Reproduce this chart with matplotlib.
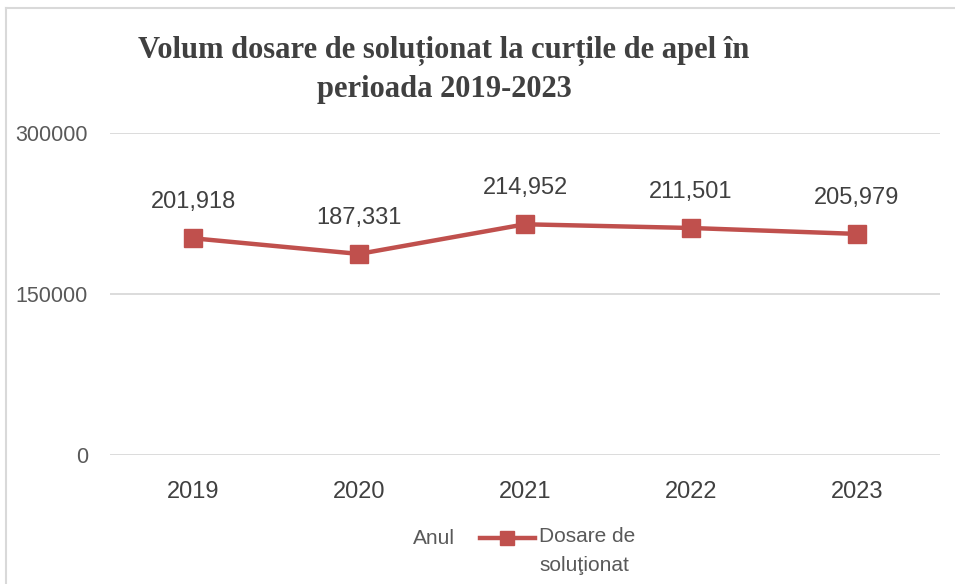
import matplotlib.pyplot as plt
from matplotlib.lines import Line2D

# date
years = ['2019', '2020', '2021', '2022', '2023']
dosare = [201918, 187331, 214952, 211501, 205979]
yticks = [0, 150000, 300000]

title = 'Volum dosare de soluționat la curțile de apel în\nperioada 2019-2023'
series_name = 'Dosare de\nsoluţionat'
x_name = 'Anul'

red = '#C0504D'

plt.rcParams['font.family'] = ['Liberation Sans', 'DejaVu Sans']

W, H = 955, 584
fig = plt.figure(figsize=(W / 100, H / 100), dpi=100)
ax = fig.add_axes([110 / W, 1 - 455 / H, 830 / W, 322 / H])

x = range(len(years))
ax.plot(x, dosare, color=red, lw=3.2, marker='s', ms=13, mfc=red, mec=red, zorder=3)

for i, v in zip(x, dosare):
    ax.annotate(f'{v:,}', (i, v), xytext=(0, 18), textcoords='offset points',
                ha='center', va='bottom', fontsize=17, color='#404040')

ax.set_xlim(-0.5, len(years) - 0.5)
ax.set_ylim(0, 300000)
ax.set_yticks(yticks)
ax.set_yticklabels([str(t) for t in yticks])
ax.set_xticks(list(x))
ax.set_xticklabels(years)
ax.grid(axis='y', color='#D9D9D9', lw=1.3)
ax.set_axisbelow(True)
for s in ax.spines.values():
    s.set_visible(False)
ax.tick_params(axis='y', length=0, pad=16, labelsize=15.5, labelcolor='#595959')
ax.tick_params(axis='x', length=0, pad=19, labelsize=17, labelcolor='#404040')

fig.text(444 / W, 1 - 70 / H, title, ha='center', va='center', fontsize=22,
         family=['Liberation Serif', 'DejaVu Serif'], fontweight='bold',
         color='#404040', linespacing=1.4)

# legenda
fig.text(455 / W, 1 - 538 / H, x_name, ha='right', va='center', fontsize=15, color='#595959')
fig.add_artist(Line2D([480 / W, 535 / W], [1 - 538 / H, 1 - 538 / H], color=red, lw=3.2,
                      transform=fig.transFigure))
fig.add_artist(Line2D([507 / W], [1 - 538 / H], color=red, marker='s', ms=10,
                      transform=fig.transFigure))
fig.text(539 / W, 1 - 527 / H, series_name, ha='left', va='top', fontsize=15,
         color='#595959', linespacing=1.65)

# chenarul graficului
fig.add_artist(Line2D([6 / W, 6 / W], [0, 1 - 8 / H], color='#D9D9D9', lw=1.5,
                      transform=fig.transFigure))
fig.add_artist(Line2D([6 / W, 1], [1 - 8 / H, 1 - 8 / H], color='#D9D9D9', lw=1.5,
                      transform=fig.transFigure))

fig.savefig('out.png', dpi=100)
